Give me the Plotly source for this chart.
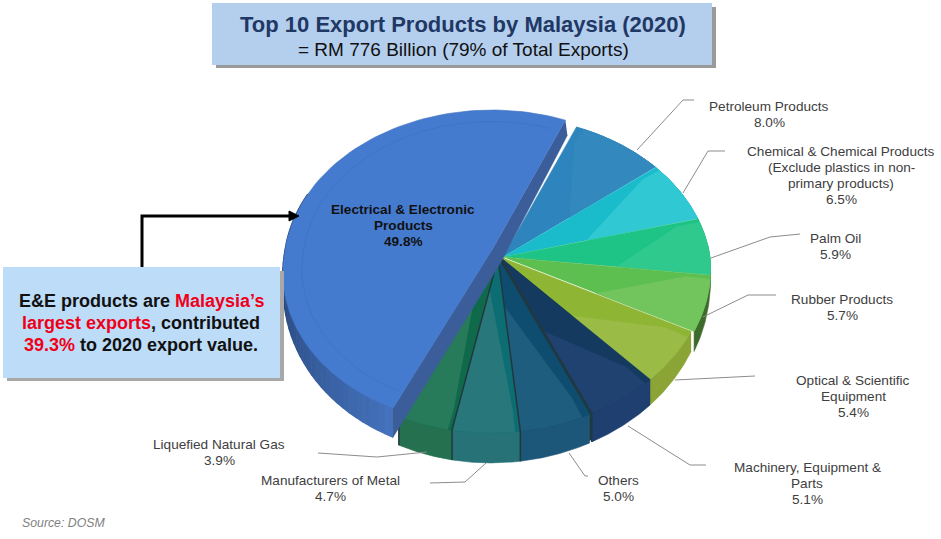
import numpy as np
import plotly.graph_objects as go

products = ["Electrical & Electronic<br>Products", "Petroleum Products",
            "Chemical & Chemical Products<br>(Exclude plastics in non-<br>primary products)",
            "Palm Oil", "Rubber Products", "Optical & Scientific<br>Equipment",
            "Machinery, Equipment &<br>Parts", "Others", "Manufacturers of Metal", "Liquefied Natural Gas"]
shares = [49.8, 8.0, 6.5, 5.9, 5.7, 5.4, 5.1, 5.0, 4.7, 3.9]
face_dark = ["#457BCF", "#2E84BC", "#1ABBCB", "#1DC485", "#5CBF50", "#8FB534", "#153A60", "#0E4D6F", "#0C6E72", "#0E6A4B"]
face_light = ["#457BCF", "#3389BE", "#30C9D3", "#30C98D", "#72C45C", "#9BBB47", "#204270", "#1F5D7E", "#27777B", "#277B5B"]
wall_col = ["#3F6DB8", "#2A78AC", "#1AAAB8", "#1AAA78", "#3D6B2C", "#8BA436", "#1F3F70", "#1C5678", "#267276", "#24704F"]
light_inner = [0, 0.42, 0.42, 0.55, 0.5, 0.5, 0.5, 0.3, 0.2, 0.25]
light_start = [0, 0.08, 0.08, 0.08, 0.08, 0.12, 0.1, 0.12, 0.08, 0.08]
label_x = [403, 769, 841, 835, 842, 853, 807, 618, 330, 219]
label_y = [225, 114, 175.5, 246, 307.5, 396, 483, 488, 488, 452]
leader_x = [[637, 683, 694], [683, 708, 725], [711, 770, 800], [703, 748, 776], [675, 755], [628, 690, 706], [569, 585, 588], [486, 465, 430], [427, 377, 318]]
leader_y = [[150, 100, 100], [193, 151, 151], [258, 237, 234], [317, 295, 295], [380, 376], [426, 465, 465], [453, 476, 476], [463, 482, 483], [452, 457, 453]]

W, H = 941, 539
CX, CY, RX, RY, P, DEPTH, SHEAR = 503.0, 257.0, 207.0, 155.5, 0.111, 30.0, 7.0
START = 23.0
offset_x = [-11, 0, 0, 0, 0, -3, -3, -5, -5, -5]
offset_y = [-7, 0, 0, 0, 0, 0, 0, 1, 1, 1]

def pt(theta, r, ox, oy, wall=False):
    t = np.radians(theta)
    u, v = r * np.sin(t), r * np.cos(t)
    den = 1 + P * v
    d = DEPTH * np.sqrt(np.maximum(-np.cos(t), 0)) if wall else 0
    return CX + ox + RX * u / den - SHEAR * np.maximum(-v, 0), CY + oy - RY * v / den + d

fig = go.Figure()

def poly(xs, ys, color, line=None, width=0.6):
    fig.add_trace(go.Scatter(x=list(xs), y=list(ys), mode="lines", fill="toself", fillcolor=color,
                             line=dict(color=line or color, width=width), hoverinfo="skip", showlegend=False))

def mix(a, b, f):
    ca = [int(a[i:i + 2], 16) for i in (1, 3, 5)]
    cb = [int(b[i:i + 2], 16) for i in (1, 3, 5)]
    return "#" + "".join(f"{int(x + (y - x) * f):02x}" for x, y in zip(ca, cb))

spans = [s * 3.6 for s in shares]
ends = []
a = START
for s in spans[1:]:
    ends.append((a, a + s))
    a += s
ranges = [(a, START + 360)] + ends

# dark underlay seen through the gaps between the front slices
uth = np.linspace(ranges[5][0], ranges[9][1], 80)
ubx, uby = pt(uth, 0.99, -3, 0, True)
cx_, cy_ = pt(ranges[5][0], 0, -3, 0)
poly(np.r_[cx_, ubx], np.r_[cy_, uby], "#22383F")

for i in [1, 2, 3, 4, 5, 9, 8, 7, 6, 0]:
    a0, a1 = ranges[i]
    ox, oy = offset_x[i], offset_y[i]
    th = np.linspace(a0, a1, 90)
    if i == 0:
        n = 40
        edges = np.linspace(a0, 292, n + 1)
        for k in range(n):
            seg = np.linspace(edges[k], edges[k + 1], 4)
            tx, ty = pt(seg, 1, ox, oy)
            bx, by = pt(seg, 1, ox, oy, True)
            c = mix("#4472BC", "#1C3460", min(1, (k / (n - 1)) ** 0.9))
            poly(np.r_[tx, bx[::-1]], np.r_[ty, by[::-1]], c, width=1.2)
        ax, ay = pt(START + 360, 1, ox, oy)
        bx, by = pt(a0, 1, ox, oy)
        tx, ty = pt(a0, 0, ox, oy)
        poly([ax, tx, bx, bx, tx + 9, ax + 2], [ay, ty, by, by + DEPTH - 1, ty + 12, ay + 15], "#3B5E9B")
    else:
        tx, ty = pt(th, 1, ox, oy)
        bx, by = pt(th, 1, ox, oy, True)
        poly(np.r_[tx, bx[::-1]], np.r_[ty, by[::-1]], wall_col[i])
    x, y = pt(th, 1, ox, oy)
    x0, y0 = pt(a0, 0, ox, oy)
    poly(np.r_[x0, x], np.r_[y0, y], face_dark[i], None if i else "#3F6FBF")
    if i == 0:
        rx_, ry_ = pt(np.linspace(205, 380, 120), 0.91, ox, oy)
        fig.add_trace(go.Scatter(x=rx_, y=ry_, mode="lines", line=dict(color="#3F74C6", width=1),
                                 hoverinfo="skip", showlegend=False))
    else:
        am = a0 + light_start[i] * (a1 - a0)
        arc = np.linspace(a1, am, 30)
        ax_, ay_ = pt(arc, 1, ox, oy)
        ex, ey = pt(a1, light_inner[i], ox, oy)
        mx, my = pt(am, 0.88, ox, oy)
        poly(np.r_[ex, ax_, mx], np.r_[ey, ay_, my], face_light[i])
    if i in (6, 7, 8, 9):
        sx, sy = pt(a1, 1, ox, oy)
        bx, by = pt(a1, 1, ox, oy, True)
        fig.add_trace(go.Scatter(x=[x0, sx, bx], y=[y0, sy, by], mode="lines",
                                 line=dict(color="#22383F", width=1.5), hoverinfo="skip", showlegend=False))

for lx, ly in zip(leader_x, leader_y):
    fig.add_trace(go.Scatter(x=lx, y=ly, mode="lines", line=dict(color="#8C8C8C", width=1),
                             hoverinfo="skip", showlegend=False))

shapes = [
    dict(type="rect", x0=216, y0=7, x1=716, y1=68, fillcolor="#9A9A9A", line_width=0, layer="below"),
    dict(type="rect", x0=212, y0=3, x1=712, y1=65, fillcolor="#B4CEEE", line_width=0, layer="below"),
    dict(type="rect", x0=7, y0=271, x1=284, y1=381, fillcolor="#A8A8A8", line_width=0, layer="above"),
    dict(type="rect", x0=3, y0=267, x1=280, y1=378, fillcolor="#BDDCF8", line_width=0, layer="above"),
    dict(type="path", path="M 142 267 L 142 216 L 290 216", line=dict(color="black", width=3), layer="above"),
    dict(type="path", path="M 289 211 L 299 216 L 289 221 Z", fillcolor="black", line=dict(color="black", width=1), layer="above"),
]

FONT = "Liberation Sans"
anns = []
def note(x, y, text, size, color="#404040"):
    anns.append(dict(x=x, y=y, xref="x", yref="y", text=text, showarrow=False, align="center",
                     font=dict(family=FONT, size=size, color=color)))

PITCH = 16
for i, (name, share) in enumerate(zip(products, shares)):
    lines = name.split("<br>") + [f"{share:.1f}%"]
    top = label_y[i] - PITCH * (len(lines) - 1) / 2
    for k, line in enumerate(lines):
        if i == 0:
            note(label_x[i], top + k * PITCH, f"<b>{line}</b>", 13.6, "#111111")
        else:
            note(label_x[i], top + k * PITCH, line, 13.6)

note(463, 24, "<b>Top 10 Export Products by Malaysia (2020)</b>", 22, "#1F3864")
note(463, 49, "= RM 776 Billion (79% of Total Exports)", 19, "#111111")
note(141, 301, '<b>E&E products are <span style="color:#F00018">Malaysia’s</span></b>', 18, "#111111")
note(141, 323, '<b><span style="color:#F00018">largest exports</span>, contributed</b>', 18, "#111111")
note(141, 345, '<b><span style="color:#F00018">39.3%</span> to 2020 export value.</b>', 18, "#111111")
note(63, 523, "<i>Source: DOSM</i>", 12.3, "#7F7F7F")

fig.update_layout(width=W, height=H, margin=dict(l=0, r=0, t=0, b=0), autosize=False,
                  paper_bgcolor="white", plot_bgcolor="white", showlegend=False,
                  shapes=shapes, annotations=anns,
                  xaxis=dict(range=[0, W], visible=False, fixedrange=True),
                  yaxis=dict(range=[H, 0], visible=False, fixedrange=True))
fig.write_html("out.html", config=dict(displayModeBar=False),
               post_script="document.body.style.margin='0';document.body.style.overflow='hidden';")
